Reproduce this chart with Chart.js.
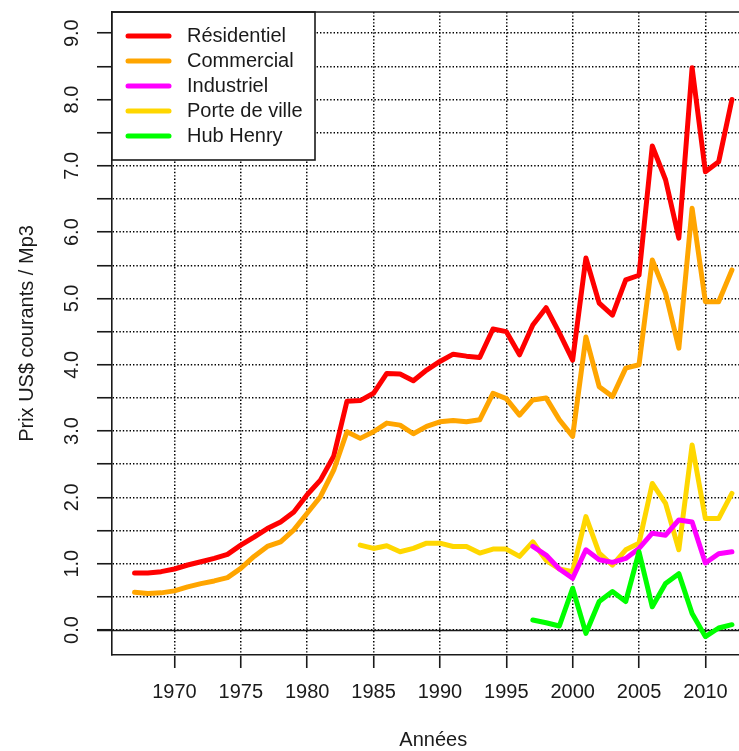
<!DOCTYPE html>
<html>
<head>
<meta charset="utf-8">
<script src="https://cdn.jsdelivr.net/npm/chart.js@4.4.1/dist/chart.umd.min.js"></script>
<style>
  html, body { margin: 0; padding: 0; background: #fff; overflow: hidden; }
  canvas { display: block; }
</style>
</head>
<body>
<canvas id="prix" width="756" height="751"></canvas>
<script>
// ===== Data =====
const years = [1967, 1968, 1969, 1970, 1971, 1972, 1973, 1974, 1975, 1976,
               1977, 1978, 1979, 1980, 1981, 1982, 1983, 1984, 1985, 1986,
               1987, 1988, 1989, 1990, 1991, 1992, 1993, 1994, 1995, 1996,
               1997, 1998, 1999, 2000, 2001, 2002, 2003, 2004, 2005, 2006,
               2007, 2008, 2009, 2010, 2011, 2012];

const residentiel = [0.86, 0.86, 0.88, 0.92, 0.98, 1.03, 1.08, 1.14, 1.28, 1.40,
                     1.53, 1.63, 1.78, 2.04, 2.26, 2.62, 3.45, 3.46, 3.57, 3.87,
                     3.86, 3.76, 3.92, 4.05, 4.16, 4.13, 4.11, 4.54, 4.50, 4.15,
                     4.60, 4.86, 4.48, 4.07, 5.61, 4.93, 4.75, 5.28, 5.35, 7.30,
                     6.79, 5.91, 8.48, 6.91, 7.06, 8.00];

const commercial = [0.57, 0.55, 0.56, 0.59, 0.65, 0.70, 0.74, 0.79, 0.93, 1.11,
                    1.26, 1.33, 1.51, 1.76, 2.01, 2.41, 2.99, 2.89, 2.99, 3.12,
                    3.09, 2.96, 3.07, 3.14, 3.16, 3.14, 3.17, 3.57, 3.49, 3.24,
                    3.47, 3.50, 3.17, 2.92, 4.42, 3.67, 3.52, 3.95, 4.00, 5.58,
                    5.08, 4.25, 6.36, 4.95, 4.95, 5.43];

const industriel = [null, null, null, null, null, null, null, null, null, null,
                    null, null, null, null, null, null, null, null, null, null,
                    null, null, null, null, null, null, null, null, null, null,
                    1.26, 1.13, 0.92, 0.78, 1.21, 1.06, 1.02, 1.08, 1.23, 1.46,
                    1.43, 1.66, 1.63, 1.01, 1.15, 1.18];

const porteDeVille = [null, null, null, null, null, null, null, null, null, null,
                      null, null, null, null, null, null, null, 1.28, 1.23, 1.27,
                      1.18, 1.23, 1.31, 1.31, 1.26, 1.26, 1.16, 1.22, 1.22, 1.11,
                      1.33, 1.05, 0.92, 0.88, 1.71, 1.16, 0.98, 1.21, 1.31, 2.21,
                      1.91, 1.21, 2.79, 1.68, 1.68, 2.06];

const hubHenry = [null, null, null, null, null, null, null, null, null, null,
                  null, null, null, null, null, null, null, null, null, null,
                  null, null, null, null, null, null, null, null, null, null,
                  0.15, 0.11, 0.06, 0.63, -0.05, 0.43, 0.58, 0.43, 1.18, 0.35,
                  0.70, 0.85, 0.25, -0.10, 0.03, 0.08];

const seriesNames = ['Résidentiel', 'Commercial', 'Industriel', 'Porte de ville', 'Hub Henry'];
const seriesColors = ['#ff0000', '#ffa500', '#ff00ff', '#ffd700', '#00ff00'];
const seriesValues = [residentiel, commercial, industriel, porteDeVille, hubHenry];
const drawOrder = [5, 4, 2, 3, 1];   // lower = drawn on top

const xTicks = [1970, 1975, 1980, 1985, 1990, 1995, 2000, 2005, 2010];
const yTicks = [0, 0.5, 1, 1.5, 2, 2.5, 3, 3.5, 4, 4.5, 5, 5.5, 6, 6.5, 7, 7.5, 8, 8.5, 9];

const FONT = '"Liberation Sans", Arial, sans-serif';
const INK = '#1a1a1a';

// ===== Plugins =====
const frame = {
    id: 'frame',
    beforeDatasetsDraw(chart) {
        const {ctx, chartArea: a, scales: {y}} = chart;
        const y0 = Math.round(y.getPixelForValue(0)) + 0.5;
        ctx.save();
        ctx.strokeStyle = INK;
        ctx.lineWidth = 1.3;
        ctx.beginPath();
        ctx.moveTo(a.left - 15, y0);
        ctx.lineTo(a.right, y0);
        ctx.stroke();
        ctx.restore();
    },
    afterDraw(chart) {
        const {ctx, chartArea: a} = chart;
        ctx.save();
        ctx.strokeStyle = INK;
        ctx.lineWidth = 1.6;
        ctx.beginPath();
        ctx.moveTo(a.left, a.top);
        ctx.lineTo(a.right, a.top);
        ctx.lineTo(a.right, a.bottom);
        ctx.stroke();
        ctx.restore();
    }
};

const boxLegend = {
    id: 'boxLegend',
    afterDatasetsDraw(chart) {
        const {ctx, chartArea: a} = chart;
        const x = a.left, y = a.top, w = 203, h = 148;
        ctx.save();
        ctx.fillStyle = '#fff';
        ctx.fillRect(x, y, w, h);
        ctx.strokeStyle = INK;
        ctx.lineWidth = 1.6;
        ctx.strokeRect(x, y, w, h);
        ctx.font = '20px ' + FONT;
        ctx.textBaseline = 'middle';
        ctx.fillStyle = INK;
        chart.data.datasets.forEach((ds, i) => {
            const cy = y + 24 + i * 25;
            ctx.strokeStyle = ds.borderColor;
            ctx.lineWidth = 5;
            ctx.lineCap = 'round';
            ctx.beginPath();
            ctx.moveTo(x + 16, cy);
            ctx.lineTo(x + 57, cy);
            ctx.stroke();
            ctx.fillText(ds.label, x + 75, cy);
        });
        ctx.restore();
    }
};

// ===== Chart =====
const ctx = document.getElementById('prix').getContext('2d');
const prixChart = new Chart(ctx, {
    type: 'line',
    data: {
        datasets: seriesNames.map((name, i) => ({
            label: name,
            data: years.map((yr, k) => ({x: yr, y: seriesValues[i][k]})),
            borderColor: seriesColors[i],
            backgroundColor: seriesColors[i],
            borderWidth: 5,
            pointRadius: 0,
            tension: 0,
            spanGaps: false,
            borderJoinStyle: 'round',
            borderCapStyle: 'round',
            order: drawOrder[i]
        }))
    },
    options: {
        responsive: false,
        animation: false,
        devicePixelRatio: 1,
        layout: { padding: { top: 12, right: 1.5, left: 0, bottom: 0 } },
        plugins: {
            legend: { display: false },
            tooltip: { enabled: false }
        },
        scales: {
            x: {
                type: 'linear',
                min: 1965.3,
                max: 2013.7,
                afterBuildTicks: s => { s.ticks = xTicks.map(v => ({value: v})); },
                afterFit: s => { s.height = 96; s.paddingLeft = 0; s.paddingRight = 0; },
                ticks: {
                    autoSkip: false,
                    maxRotation: 0,
                    padding: 12,
                    color: INK,
                    font: { family: FONT, size: 20 },
                    callback: v => String(v)
                },
                grid: {
                    color: '#000',
                    lineWidth: 1.5,
                    tickLength: 13,
                    tickColor: INK,
                    tickWidth: 1.6,
                    tickBorderDash: []
                },
                border: { display: true, color: INK, width: 1.6, dash: [1.4, 2] },
                title: {
                    display: true,
                    text: 'Années',
                    color: INK,
                    font: { family: FONT, size: 20, lineHeight: 1.1 },
                    padding: { top: 0, bottom: 0 }
                }
            },
            y: {
                type: 'linear',
                min: -0.377,
                max: 9.32,
                afterBuildTicks: s => { s.ticks = yTicks.map(v => ({value: v})); },
                afterFit: s => { s.width = 112; s.paddingTop = 0; s.paddingBottom = 0; },
                ticks: {
                    autoSkip: false,
                    minRotation: 90,
                    maxRotation: 90,
                    crossAlign: 'center',
                    padding: 11,
                    color: INK,
                    font: { family: FONT, size: 20 },
                    callback: v => (Number.isInteger(v) ? v.toFixed(1) : '')
                },
                grid: {
                    color: '#000',
                    lineWidth: 1.5,
                    tickLength: 15,
                    tickColor: INK,
                    tickWidth: 1.6,
                    tickBorderDash: []
                },
                border: { display: true, color: INK, width: 1.6, dash: [1.4, 2] },
                title: {
                    display: true,
                    text: 'Prix US$ courants / Mp3',
                    color: INK,
                    font: { family: FONT, size: 20, lineHeight: 1.2 },
                    padding: { top: 15, bottom: 0 }
                }
            }
        }
    },
    plugins: [frame, boxLegend]
});
</script>
</body>
</html>
